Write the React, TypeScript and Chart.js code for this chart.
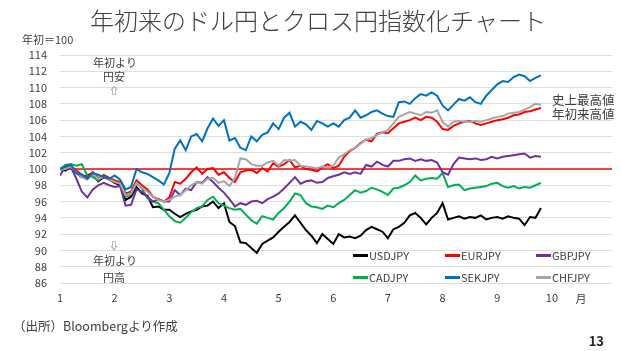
import React, { useEffect, useRef } from "react";
import { Chart, registerables } from "chart.js";
Chart.register(...registerables);

const FONT = '"Noto Sans CJK JP", "Noto Sans", sans-serif';
const TEXT = "#404040";

const months = [
  1.0, 1.1, 1.2, 1.3, 1.4, 1.5, 1.6, 1.7, 1.8, 1.9,
  2.0, 2.1, 2.2, 2.3, 2.4, 2.5, 2.6, 2.7, 2.8, 2.9,
  3.0, 3.1, 3.2, 3.3, 3.4, 3.5, 3.6, 3.7, 3.8, 3.9,
  4.0, 4.1, 4.2, 4.3, 4.4, 4.5, 4.6, 4.7, 4.8, 4.9,
  5.0, 5.1, 5.2, 5.3, 5.4, 5.5, 5.6, 5.7, 5.8, 5.9,
  6.0, 6.1, 6.2, 6.3, 6.4, 6.5, 6.6, 6.7, 6.8, 6.9,
  7.0, 7.1, 7.2, 7.3, 7.4, 7.5, 7.6, 7.7, 7.8, 7.9,
  8.0, 8.1, 8.2, 8.3, 8.4, 8.5, 8.6, 8.7, 8.8, 8.9,
  9.0, 9.1, 9.2, 9.3, 9.4, 9.5, 9.6, 9.7, 9.8,
];

const usdjpy = [
  100, 99.8, 100.3, 99.5, 99.0, 99.2, 99.5, 98.5, 99.0, 98.7,
  98.3, 98.0, 96.2, 96.6, 97.8, 97.0, 96.7, 95.3, 95.4, 95.0,
  95.0, 94.5, 94.1, 94.5, 94.8, 95.0, 95.4, 95.5, 96.0, 95.2,
  95.8, 93.5, 93.0, 91.0, 90.9, 90.3, 89.7, 90.8, 91.2, 91.6,
  92.3, 92.9, 93.5, 94.3, 93.4, 92.5, 91.8, 90.9, 92.0, 91.4,
  90.8, 92.0, 91.6, 91.7, 91.5, 91.8, 92.5, 92.9, 92.6, 92.3,
  91.5, 92.6, 92.9, 93.4, 94.3, 94.6, 94.0, 93.2, 94.0, 94.6,
  95.8, 93.8, 94.0, 94.2, 93.9, 94.1, 94.0, 94.3, 93.8, 94.0,
  94.1, 93.9, 94.2, 94.0, 93.9, 93.1, 94.1, 94.0, 95.2,
];

const eurjpy = [
  100, 100.1, 100.4, 99.8, 99.3, 99.0, 99.6, 98.9, 99.2, 98.9,
  98.6, 98.4, 97.0, 97.2, 98.6, 98.0, 97.5, 96.6, 96.3, 96.0,
  96.5, 98.4, 98.2, 98.8, 99.6, 100.2, 99.4, 100.0, 100.1, 99.3,
  99.6, 98.9, 98.4, 99.6, 99.8, 99.9, 99.5, 100.1, 99.7, 100.7,
  100.3, 100.6, 101.1, 100.2, 100.4, 100.0, 99.9, 99.7, 100.2, 100.6,
  100.1, 100.4, 101.5, 102.2, 102.6, 103.2, 103.6, 103.4, 104.3, 104.5,
  104.4, 105.0, 105.6, 105.8, 106.0, 106.3, 106.0, 106.4, 106.3, 105.8,
  104.9, 104.8, 105.3, 105.6, 105.8, 105.9, 105.6, 105.4, 105.6, 105.8,
  106.0, 106.1, 106.3, 106.6, 106.7, 107.0, 107.1, 107.3, 107.5,
];

const gbpjpy = [
  99.2, 100.3, 100.2, 98.8, 97.2, 96.5, 97.5, 98.0, 98.3, 98.0,
  97.8, 97.9, 95.5, 95.6, 97.5, 97.2, 96.6, 96.0, 96.3, 96.0,
  96.0, 97.4, 96.8, 97.6, 97.4, 98.4, 98.3, 99.0, 98.4, 97.7,
  97.1, 96.3, 95.4, 95.8, 95.6, 96.0, 96.1, 95.8, 96.3, 96.6,
  97.0, 97.6, 98.3, 99.0, 98.2, 98.5, 98.6, 98.3, 98.4, 98.9,
  99.1, 99.3, 99.6, 99.4, 99.6, 99.4, 100.5, 100.3, 100.9, 100.5,
  100.3, 101.0, 101.0, 101.2, 101.3, 101.0, 101.2, 101.0, 101.1, 100.8,
  99.6, 99.3, 100.6, 101.4, 101.3, 101.2, 101.3, 101.1, 101.2, 101.5,
  101.3, 101.5, 101.6, 101.7, 101.8, 101.9, 101.4, 101.6, 101.5,
];

const cadjpy = [
  100, 100.5, 100.6, 100.4, 100.6, 99.2, 99.0, 98.6, 99.3, 98.9,
  98.5, 98.2, 96.6, 96.9, 98.3, 97.6, 96.4, 96.0, 95.8, 95.0,
  94.2, 93.6, 93.4, 94.0, 94.7, 95.2, 95.4, 96.2, 96.6, 95.8,
  95.5, 95.2, 95.0, 95.1, 94.4, 93.7, 93.3, 94.2, 94.0, 93.8,
  94.6, 95.2, 96.0, 97.0, 96.8, 95.8, 95.4, 95.3, 95.1, 95.5,
  95.3, 95.8, 96.2, 96.8, 97.4, 97.1, 97.3, 97.7, 97.5, 97.2,
  96.8, 97.6, 97.7, 98.0, 98.4, 99.2, 98.6, 98.8, 98.9, 98.8,
  99.5, 97.8, 98.0, 98.1, 97.4, 97.6, 97.7, 97.8, 97.9, 98.2,
  98.3, 97.9, 97.7, 97.9, 97.6, 97.8, 97.7, 98.0, 98.3,
];

const sekjpy = [
  100, 100.3, 100.5, 99.5, 99.3, 98.8, 99.5, 99.3, 99.0, 98.8,
  99.2, 98.7, 97.5, 97.8, 100.0, 99.6, 99.4, 99.0, 98.6, 98.1,
  99.5, 102.5, 103.5, 102.3, 104.0, 104.3, 103.4, 105.0, 106.2, 105.3,
  106.0, 103.5, 103.8, 102.6, 102.3, 104.0, 103.4, 104.2, 104.5, 105.6,
  104.9, 106.3, 106.9, 105.2, 105.8, 105.5, 104.8, 105.9, 105.6, 105.2,
  105.6, 105.2, 106.0, 106.3, 107.2, 106.3, 106.6, 107.0, 107.2, 106.8,
  106.5, 106.4, 108.2, 108.3, 108.0, 108.7, 109.2, 109.0, 109.4, 109.0,
  107.8, 107.2, 107.9, 108.6, 108.4, 108.8, 108.2, 108.0, 109.0, 109.7,
  110.4, 110.8, 110.7, 111.3, 111.6, 111.4, 110.8, 111.2, 111.5,
];

const chfjpy = [
  100, 100.0, 100.3, 99.6, 99.0, 98.7, 99.4, 98.8, 99.0, 98.7,
  98.4, 98.2, 96.8, 97.0, 98.3, 97.7, 97.2, 96.6, 96.2, 96.0,
  96.2, 96.6, 96.8, 97.4, 98.0, 98.4, 98.2, 98.8, 98.9, 98.3,
  98.5, 97.9, 98.9, 101.3, 101.2, 100.6, 100.4, 100.4, 100.8, 101.0,
  100.4, 101.1, 101.0, 101.1, 100.4, 100.3, 100.2, 100.1, 100.3, 100.2,
  100.4, 101.4, 101.8, 102.3, 102.6, 103.1, 103.6, 103.8, 104.2, 104.5,
  104.8, 105.6, 106.4, 106.7, 107.0, 106.8, 106.6, 107.0, 106.9, 107.2,
  105.8, 105.2, 105.8, 105.9, 105.8, 105.8, 105.9, 105.8, 106.0, 106.2,
  106.4, 106.5, 106.8, 106.9, 107.0, 107.3, 107.6, 108.0, 107.9,
];

const baseLine = [100, 100];
const baseLineX = [1, 11.1];

const seriesNames = ["USDJPY", "EURJPY", "GBPJPY", "CADJPY", "SEKJPY", "CHFJPY"];
const seriesColors = ["#000000", "#ff0000", "#7030a0", "#00b050", "#0070c0", "#a6a6a6"];
const seriesData = [usdjpy, eurjpy, gbpjpy, cadjpy, sekjpy, chfjpy];

const yMin = 86;
const yMax = 114;
const xTickMax = 10;

function Txt(props: { x: number; y: number; children: React.ReactNode; size?: number; align?: "left" | "center" | "right"; weight?: number; color?: string }) {
  const { x, y, size = 11, align = "left", weight = 400, color = TEXT } = props;
  const tx = align === "center" ? "-50%" : align === "right" ? "-100%" : "0";
  return (
    <div
      style={{
        position: "absolute",
        left: x,
        top: y,
        transform: `translate(${tx}, -50%)`,
        fontFamily: FONT,
        fontSize: size,
        fontWeight: weight,
        color,
        whiteSpace: "nowrap",
        lineHeight: 1,
      }}
    >
      {props.children}
    </div>
  );
}

export default function App() {
  const ref = useRef<HTMLCanvasElement>(null);
  useEffect(() => {
    if (!ref.current) return;
    const order = [4, 5, 1, 2, 3, 0];
    const datasets: any[] = order.map((i) => ({
      label: seriesNames[i],
      data: months.map((m, k) => ({ x: m, y: seriesData[i][k] })),
      borderColor: seriesColors[i],
      backgroundColor: seriesColors[i],
      borderWidth: 2,
      pointRadius: 0,
      tension: 0,
    }));
    datasets.push({
      label: "base",
      data: baseLineX.map((x, k) => ({ x, y: baseLine[k] })),
      borderColor: "#ff0000",
      borderWidth: 1.5,
      pointRadius: 0,
    });
    const chart = new Chart(ref.current, {
      type: "line",
      data: { datasets },
      options: {
        animation: false,
        responsive: false,
        maintainAspectRatio: false,
        layout: { padding: { top: 55, right: 9, left: 0, bottom: 0 } },
        plugins: { legend: { display: false }, tooltip: { enabled: false } },
        scales: {
          x: {
            type: "linear",
            min: 1,
            max: 11.1,
            grid: { display: false, drawTicks: false },
            border: { display: false },
            ticks: {
              stepSize: 1,
              padding: 8,
              autoSkip: false,
              maxRotation: 0,
              color: TEXT,
              font: { family: FONT, size: 11 },
              callback: (v: any) => (Number(v) <= xTickMax && Number.isInteger(Number(v)) ? String(v) : ""),
            },
            afterFit: (s: any) => {
              s.height = 68;
            },
          },
          y: {
            min: yMin,
            max: yMax,
            grid: { color: "#dedede", drawTicks: false, lineWidth: 1 },
            border: { display: false },
            ticks: {
              stepSize: 2,
              padding: 13,
              color: TEXT,
              font: { family: FONT, size: 11 },
            },
            afterFit: (s: any) => {
              s.width = 60;
            },
          },
        },
      },
    });
    return () => chart.destroy();
  }, []);

  const legendCols = [353, 445, 536];
  const legendRows = [255, 277];
  const legendOrder = [0, 1, 2, 3, 4, 5];

  return (
    <div style={{ position: "fixed", left: 0, top: 0, width: 621, height: 351, background: "#fff", overflow: "hidden" }}>
      <canvas ref={ref} width={621} height={351} style={{ position: "absolute", left: 0, top: 0, width: 621, height: 351 }} />
      <Txt x={318} y={20} size={24} align="center" weight={300}>年初来のドル円とクロス円指数化チャート</Txt>
      <Txt x={22} y={39} size={11}>年初＝100</Txt>

      <Txt x={115} y={62} size={11} align="center">年初より</Txt>
      <Txt x={114} y={76} size={11} align="center">円安</Txt>
      <Txt x={114} y={90} size={9} align="center">⇧</Txt>

      <Txt x={114} y={245} size={9} align="center">⇩</Txt>
      <Txt x={115} y={260} size={11} align="center">年初より</Txt>
      <Txt x={114} y={277} size={11} align="center">円高</Txt>

      <Txt x={552} y={100} size={12.5}>史上最高値</Txt>
      <Txt x={552} y={114} size={12.5}>年初来高値</Txt>

      <Txt x={581} y={298} size={11} align="center">月</Txt>

      {legendOrder.map((i, k) => {
        const x = legendCols[k % 3];
        const y = legendRows[Math.floor(k / 3)];
        return (
          <React.Fragment key={i}>
            <div style={{ position: "absolute", left: x, top: y - 1, width: 15, height: 2.5, background: seriesColors[i] }} />
            <Txt x={x + 16} y={y} size={11}>{seriesNames[i]}</Txt>
          </React.Fragment>
        );
      })}

      <Txt x={13} y={326} size={12.5}>（出所）Bloombergより作成</Txt>
      <Txt x={604} y={340} size={13} align="right" weight={700} color="#262626">13</Txt>
    </div>
  );
}
